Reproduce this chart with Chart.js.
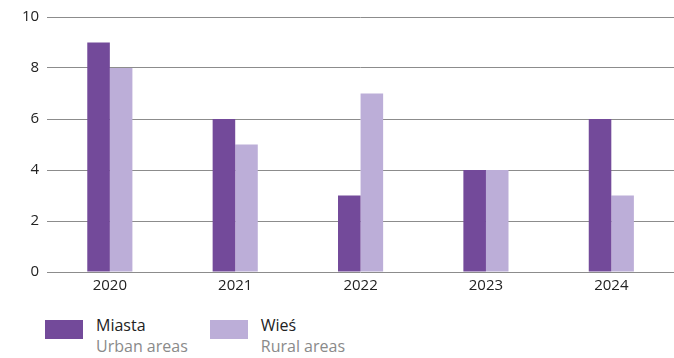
<!DOCTYPE html>
<html>
<head>
<meta charset="utf-8">
<script src="https://cdn.jsdelivr.net/npm/chart.js@4/dist/chart.umd.min.js"></script>
<style>
  body { margin: 0; background: #fff; font-family: "Open Sans", sans-serif; }
  #wrap { position: relative; width: 674px; height: 300px; }
  .legend { position: absolute; top: 315px; left: 45px; display: flex; }
  .item { display: flex; align-items: flex-start; margin-right: 22px; }
  .swatch { width: 38px; height: 19px; margin-top: 5px; margin-right: 13px; }
  .txt { font-size: 16px; line-height: 21px; color: #222; }
  .txt span { display: block; color: #8a8a8a; }
</style>
</head>
<body>
<div id="wrap"><canvas id="chart"></canvas></div>
<div class="legend">
  <div class="item"><div class="swatch" style="background:#734a9a"></div><div class="txt">Miasta<span>Urban areas</span></div></div>
  <div class="item"><div class="swatch" style="background:#bcaed8"></div><div class="txt">Wieś<span>Rural areas</span></div></div>
</div>
<script>
// lata i wartości
const years = ['2020', '2021', '2022', '2023', '2024'];
const miasta = [9, 6, 3, 4, 6];
const wies = [8, 5, 7, 4, 3];
const yTicks = [0, 2, 4, 6, 8, 10];

const ctx = document.getElementById('chart').getContext('2d');
new Chart(ctx, {
    type: 'bar',
    data: {
        labels: years,
        datasets: [{
            label: 'Miasta',
            data: miasta,
            backgroundColor: '#734a9a',
            borderWidth: 0
        }, {
            label: 'Wieś',
            data: wies,
            backgroundColor: '#bcaed8',
            borderWidth: 0
        }]
    },
    options: {
        responsive: true,
        maintainAspectRatio: false,
        animation: false,
        categoryPercentage: 0.36,
        barPercentage: 1,
        layout: { padding: { top: 4, right: 0, left: 14, bottom: 0 } },
        scales: {
            y: {
                min: 0,
                max: 10,
                afterBuildTicks: function(axis) {
                    axis.ticks = yTicks.map(v => ({ value: v }));
                },
                border: { display: false },
                grid: { color: '#8c8c8c', lineWidth: 1, drawTicks: false },
                ticks: { color: '#222', padding: 8, font: { family: 'Open Sans', size: 15 } }
            },
            x: {
                border: { display: false },
                grid: { display: false, drawTicks: false },
                ticks: { color: '#222', padding: 5, font: { family: 'Open Sans', size: 15 } }
            }
        },
        plugins: {
            legend: { display: false },
            tooltip: { enabled: false }
        }
    }
});
</script>
</body>
</html>
